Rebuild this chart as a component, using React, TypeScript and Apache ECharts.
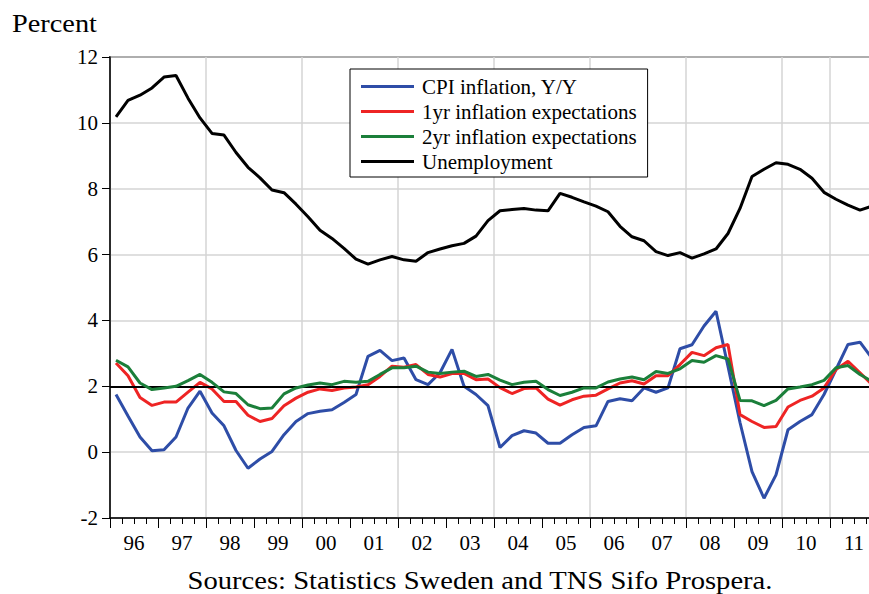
import React, { useEffect, useRef } from "react";
import * as echarts from "echarts";

// ---- Data (quarterly, 1996Q1 - 2011Q4) ----
const years = [1996, 1997, 1998, 1999, 2000, 2001, 2002, 2003, 2004, 2005, 2006, 2007, 2008, 2009, 2010, 2011];
const quarterNames = ["Q1", "Q2", "Q3", "Q4"];
const yearLabels = ["96", "97", "98", "99", "00", "01", "02", "03", "04", "05", "06", "07", "08", "09", "10", "11"];

const cpiInflation = [
  1.75, 1.10, 0.46, 0.04, 0.07, 0.46, 1.34, 1.85,
  1.19, 0.80, 0.05, -0.49, -0.21, 0.02, 0.53, 0.93,
  1.17, 1.24, 1.29, 1.51, 1.75, 2.91, 3.09, 2.78,
  2.86, 2.20, 2.05, 2.41, 3.12, 2.00, 1.75, 1.41,
  0.14, 0.50, 0.65, 0.58, 0.27, 0.27, 0.53, 0.75,
  0.80, 1.54, 1.62, 1.56, 1.95, 1.82, 1.95, 3.14,
  3.26, 3.83, 4.28, 2.60, 0.90, -0.59, -1.40, -0.69,
  0.68, 0.93, 1.14, 1.75, 2.51, 3.27, 3.34, 2.85,
];

const expectations1yr = [
  2.71, 2.32, 1.66, 1.42, 1.52, 1.52, 1.82, 2.12,
  1.92, 1.54, 1.54, 1.12, 0.93, 1.02, 1.41, 1.64,
  1.82, 1.92, 1.87, 1.95, 1.98, 2.05, 2.30, 2.61,
  2.58, 2.66, 2.36, 2.28, 2.39, 2.39, 2.20, 2.22,
  1.96, 1.78, 1.93, 1.95, 1.61, 1.43, 1.59, 1.70,
  1.73, 1.92, 2.10, 2.17, 2.07, 2.32, 2.32, 2.66,
  3.03, 2.93, 3.17, 3.27, 1.14, 0.93, 0.75, 0.78,
  1.37, 1.57, 1.70, 1.95, 2.51, 2.76, 2.41, 2.05,
];

const expectations2yr = [
  2.79, 2.59, 2.10, 1.90, 1.95, 2.00, 2.17, 2.36,
  2.12, 1.83, 1.78, 1.44, 1.32, 1.34, 1.77, 1.95,
  2.04, 2.10, 2.05, 2.15, 2.12, 2.15, 2.36, 2.56,
  2.56, 2.61, 2.43, 2.39, 2.43, 2.46, 2.30, 2.36,
  2.19, 2.05, 2.12, 2.15, 1.90, 1.72, 1.82, 1.95,
  1.95, 2.13, 2.22, 2.28, 2.20, 2.45, 2.39, 2.53,
  2.78, 2.73, 2.93, 2.83, 1.57, 1.56, 1.41, 1.57,
  1.92, 1.98, 2.05, 2.18, 2.56, 2.63, 2.36, 2.15,
];

const unemployment = [
  10.18, 10.68, 10.84, 11.06, 11.39, 11.44, 10.75, 10.15,
  9.68, 9.63, 9.10, 8.65, 8.33, 7.96, 7.88, 7.53,
  7.15, 6.74, 6.49, 6.19, 5.86, 5.71, 5.84, 5.94,
  5.84, 5.80, 6.06, 6.17, 6.27, 6.34, 6.56, 7.03,
  7.33, 7.37, 7.40, 7.35, 7.33, 7.86, 7.74, 7.60,
  7.47, 7.30, 6.86, 6.54, 6.42, 6.09, 5.97, 6.06,
  5.89, 6.02, 6.17, 6.64, 7.40, 8.37, 8.59, 8.79,
  8.74, 8.59, 8.32, 7.89, 7.68, 7.50, 7.35, 7.47,
];

const yTicks = { min: -2, max: 12, interval: 2 };
const referenceLevel = 2;

const seriesNames = [
  "CPI inflation, Y/Y",
  "1yr inflation expectations",
  "2yr inflation expectations",
  "Unemployment",
];
const seriesColors = ["#2E4DA7", "#EE2424", "#1B7F3A", "#000000"];

const FONT = '"Liberation Serif", "Times New Roman", serif';

export default function App() {
  const ref = useRef<HTMLDivElement | null>(null);

  useEffect(() => {
    if (!ref.current) return;
    const chart = echarts.init(ref.current, undefined, { renderer: "svg" });
    const quarterLabels = years.flatMap((y) => quarterNames.map((q) => `${y}${q}`));
    const values = [cpiInflation, expectations1yr, expectations2yr, unemployment];

    const series: any[] = values.map((data, k) => ({
      name: seriesNames[k],
      type: "line",
      xAxisIndex: 0,
      data,
      symbol: "none",
      color: seriesColors[k],
      lineStyle: { color: seriesColors[k], width: 3 },
      z: 3 + k,
      ...(k === 0
        ? {
            markLine: {
              silent: true,
              symbol: ["none", "none"],
              label: { show: false },
              lineStyle: { color: "#000", width: 2, type: "solid" },
              data: [{ yAxis: referenceLevel }],
            },
          }
        : {}),
    }));

    chart.setOption({
      animation: false,
      backgroundColor: "#fff",
      grid: {
        left: 110,
        top: 57,
        width: 768,
        height: 461,
        outerBoundsMode: "none",
        containLabel: false,
        show: true,
        borderColor: "#000",
        borderWidth: 1.5,
        backgroundColor: "transparent",
      },
      legend: {
        orient: "vertical",
        left: 350,
        top: 69,
        padding: [7, 11, 5, 11],
        itemGap: 4,
        itemWidth: 53,
        itemHeight: 3,
        icon: "rect",
        backgroundColor: "#fff",
        borderColor: "#000",
        borderWidth: 1,
        textStyle: {
          fontSize: 21,
          fontFamily: FONT,
          color: "#000",
          lineHeight: 21,
          padding: [0, 0, 0, 3],
        },
        data: seriesNames,
      },
      xAxis: [
        {
          type: "category",
          data: quarterLabels,
          boundaryGap: true,
          axisLine: { show: true, onZero: false, lineStyle: { color: "#000", width: 1.5 } },
          axisTick: { show: true, interval: 0, length: 6, lineStyle: { color: "#000", width: 1 } },
          axisLabel: { show: false },
          splitLine: { show: false },
        },
        {
          type: "category",
          data: yearLabels,
          boundaryGap: true,
          position: "bottom",
          axisLine: { show: false, onZero: false },
          axisTick: { show: true, interval: 0, length: 10, lineStyle: { color: "#000", width: 1 } },
          axisLabel: {
            show: true,
            interval: 0,
            color: "#000",
            fontSize: 21,
            fontFamily: FONT,
            margin: 14,
          },
          splitLine: {
            show: true,
            interval: 1,
            lineStyle: { color: "#d4d4d4", width: 1.5 },
          },
        },
      ],
      yAxis: {
        type: "value",
        min: yTicks.min,
        max: yTicks.max,
        interval: yTicks.interval,
        axisLine: { show: true, onZero: false, lineStyle: { color: "#000", width: 1.5 } },
        axisTick: { show: true, length: 8, lineStyle: { color: "#000", width: 1 } },
        axisLabel: { color: "#000", fontSize: 21, fontFamily: FONT, margin: 12 },
        splitLine: { show: true, lineStyle: { color: "#d4d4d4", width: 1.5 } },
      },
      graphic: [
        {
          type: "text",
          x: 12,
          y: 23,
          scaleX: 1.09,
          style: {
            text: "Percent",
            fontSize: 26,
            fontFamily: FONT,
            fill: "#000",
            align: "left",
            verticalAlign: "middle",
          },
        },
        {
          type: "text",
          x: 480,
          y: 580,
          scaleX: 1.1,
          style: {
            text: "Sources: Statistics Sweden and TNS Sifo Prospera.",
            fontSize: 26,
            fontFamily: FONT,
            fill: "#000",
            align: "center",
            verticalAlign: "middle",
          },
        },
      ],
      series,
    });

    return () => chart.dispose();
  }, []);

  return (
    <div
      ref={ref}
      style={{ position: "absolute", left: 0, top: 0, width: 869, height: 594 }}
    />
  );
}
